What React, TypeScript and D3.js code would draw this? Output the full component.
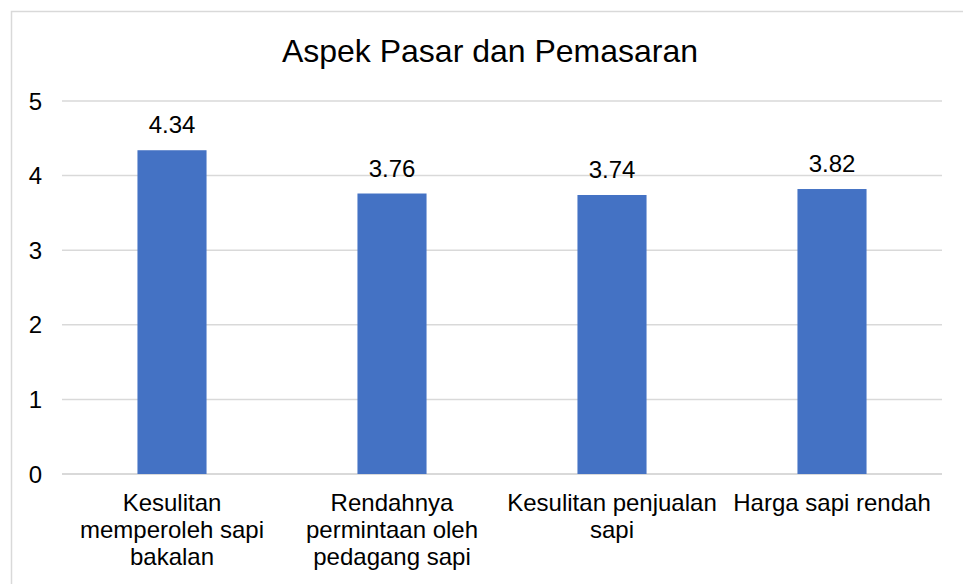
import React from "react";
import * as d3 from "d3";

const title = "Aspek Pasar dan Pemasaran";
const categories = [
  "Kesulitan memperoleh sapi bakalan",
  "Rendahnya permintaan oleh pedagang sapi",
  "Kesulitan penjualan sapi",
  "Harga sapi rendah",
];
const categoryLines = [
  ["Kesulitan", "memperoleh sapi", "bakalan"],
  ["Rendahnya", "permintaan oleh", "pedagang sapi"],
  ["Kesulitan penjualan", "sapi"],
  ["Harga sapi rendah"],
];
const values = [4.34, 3.76, 3.74, 3.82];
const yTicks = [0, 1, 2, 3, 4, 5];

const W = 963;
const H = 584;
const FONT = "'Liberation Sans', Arial, sans-serif";

export default function App() {
  const x = d3
    .scaleBand<string>()
    .domain(categories)
    .range([62, 942])
    .paddingInner(0.686)
    .paddingOuter(0.343);
  const y = d3.scaleLinear().domain([0, 5]).range([474, 101]);

  return (
    <svg
      width={W}
      height={H}
      style={{ position: "absolute", left: 0, top: 0, background: "#fff" }}
      fontFamily={FONT}
    >
      <rect x={0} y={0} width={W} height={H} fill="#fff" />
      <rect
        x={11.5}
        y={11.5}
        width={1000}
        height={700}
        fill="none"
        stroke="#d9d9d9"
        strokeWidth={1.5}
      />
      <text x={490} y={62} textAnchor="middle" fontSize={32} fill="#000">
        {title}
      </text>
      {yTicks.map((t) => (
        <g key={t}>
          <line
            x1={62}
            x2={942}
            y1={y(t)}
            y2={y(t)}
            stroke="#d9d9d9"
            strokeWidth={t === 0 ? 2 : 1.5}
          />
          <text
            x={42}
            y={y(t)}
            dy="0.36em"
            textAnchor="end"
            fontSize={24}
            fill="#000"
          >
            {t}
          </text>
        </g>
      ))}
      {categories.map((c, i) => {
        const bx = x(c)!;
        const bw = x.bandwidth();
        const cx = bx + bw / 2;
        return (
          <g key={c}>
            <rect
              x={bx}
              y={y(values[i])}
              width={bw}
              height={y(0) - y(values[i])}
              fill="#4472C4"
            />
            <text
              x={cx}
              y={y(values[i]) - 17}
              textAnchor="middle"
              fontSize={24}
              fill="#000"
            >
              {values[i].toFixed(2)}
            </text>
            <text x={cx} y={511} textAnchor="middle" fontSize={24} fill="#000">
              {categoryLines[i].map((ln, j) => (
                <tspan key={j} x={cx} dy={j === 0 ? 0 : 27}>
                  {ln}
                </tspan>
              ))}
            </text>
          </g>
        );
      })}
    </svg>
  );
}
